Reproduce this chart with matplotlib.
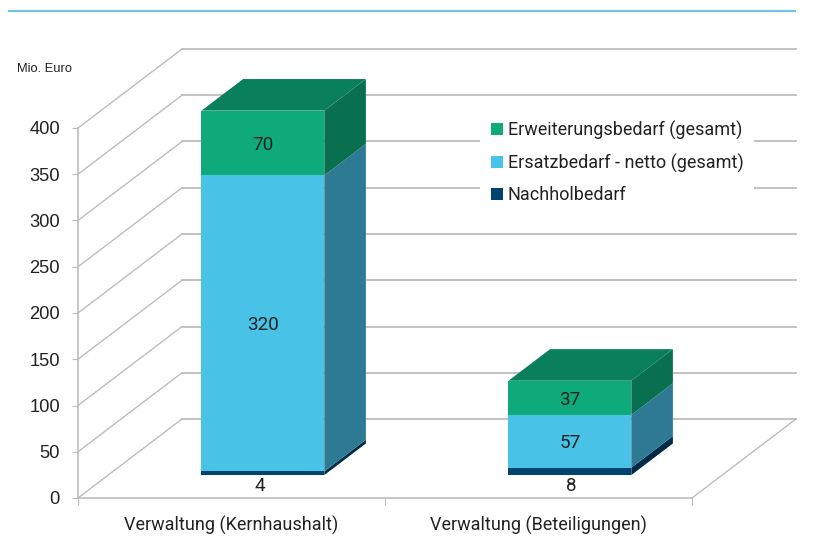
"""Stacked pseudo-3D bars: Investitionsbedarf Verwaltung."""

from __future__ import annotations

import matplotlib

matplotlib.use("Agg")
import matplotlib.pyplot as plt
from matplotlib.lines import Line2D
from matplotlib.patches import Patch, Polygon

categories = ["Verwaltung (Kernhaushalt)", "Verwaltung (Beteiligungen)"]
series_names = ["Nachholbedarf", "Ersatzbedarf - netto (gesamt)", "Erweiterungsbedarf (gesamt)"]
nachhol = [4, 8]
ersatz = [320, 57]
erweiterung = [70, 37]
y_ticks = [0, 50, 100, 150, 200, 250, 300, 350, 400]

FRONT = ["#00436f", "#48c2e6", "#0eaa7a"]
SIDE = ["#002b48", "#2e7a94", "#086f4f"]
TOP = ["#002b48", "#2e7a94", "#0a7f5c"]
GRID = "#bdbdbd"
TEXT = "#222222"
FONT = "Roboto"

W, H = 816, 536
LEFT, RIGHT, BOTTOM, TOP_PX = 78, 692, 498, 128
DEPTH_X = 104 / ((RIGHT - LEFT) / 2)  # category units per full floor depth
DEPTH_Y = 79 / ((BOTTOM - TOP_PX) / 400)  # value units per full floor depth
BAR_WIDTH = 0.4
BAR_FRONT = 0.29
BAR_BACK = 0.69
BAR_SHIFT = 0.004
BOTTOM_LABEL_NUDGE = [-0.009, 0.005]


def _project(x: float, value: float, depth: float) -> tuple[float, float]:
    return x + depth * DEPTH_X, value + depth * DEPTH_Y


def _draw_walls(ax: plt.Axes) -> None:
    for tick in y_ticks:
        back_l = _project(0, tick, 1)
        back_r = _project(2, tick, 1)
        ax.plot([0, back_l[0]], [tick, back_l[1]], color=GRID, lw=1.0, clip_on=False, zorder=1)
        ax.plot([back_l[0], back_r[0]], [back_l[1], back_r[1]], color=GRID, lw=1.3, clip_on=False, zorder=1)
    floor_r = _project(2, 0, 1)
    ax.plot([2, floor_r[0]], [0, floor_r[1]], color=GRID, lw=1.0, clip_on=False, zorder=1)


def _draw_segment(ax: plt.Axes, center: float, low: float, high: float, level: int, with_top: bool) -> None:
    x0, x1 = center - BAR_WIDTH / 2, center + BAR_WIDTH / 2
    front = [_project(x0, low, BAR_FRONT), _project(x1, low, BAR_FRONT),
             _project(x1, high, BAR_FRONT), _project(x0, high, BAR_FRONT)]
    side = [_project(x1, low, BAR_FRONT), _project(x1, low, BAR_BACK),
            _project(x1, high, BAR_BACK), _project(x1, high, BAR_FRONT)]
    ax.add_patch(Polygon(side, facecolor=SIDE[level], edgecolor="none", clip_on=False, zorder=3))
    ax.add_patch(Polygon(front, facecolor=FRONT[level], edgecolor="none", clip_on=False, zorder=4))
    if with_top:
        top = [_project(x0, high, BAR_FRONT), _project(x1, high, BAR_FRONT),
               _project(x1, high, BAR_BACK), _project(x0, high, BAR_BACK)]
        ax.add_patch(Polygon(top, facecolor=TOP[level], edgecolor="none", clip_on=False, zorder=3))


def _draw_bars(ax: plt.Axes) -> None:
    for index in range(len(categories)):
        center = index + 0.5 + BAR_SHIFT
        low = 0
        stack = [nachhol[index], ersatz[index], erweiterung[index]]
        for level, value in enumerate(stack):
            high = low + value
            _draw_segment(ax, center, low, high, level, level == 2)
            label_x, label_y = _project(center, (low + high) / 2, BAR_FRONT)
            if level == 0:
                label_y = _project(center, low, BAR_FRONT)[1] - 10
                label_x += BOTTOM_LABEL_NUDGE[index]
            ax.text(label_x, label_y - 2, str(value), ha="center", va="center", fontsize=13.6,
                    family=FONT, color=TEXT, zorder=5)
            low = high


fig = plt.figure(figsize=(W / 100, H / 100), dpi=100)
ax = fig.add_axes([LEFT / W, 1 - BOTTOM / H, (RIGHT - LEFT) / W, (BOTTOM - TOP_PX) / H])
ax.set_xlim(0, 2)
ax.set_ylim(0, 400)
for name in ("top", "right"):
    ax.spines[name].set_visible(False)
for name in ("left", "bottom"):
    ax.spines[name].set_color(GRID)
    ax.spines[name].set_linewidth(1.2)
ax.set_yticks(y_ticks)
ax.tick_params(axis="y", length=4.5, color=GRID, pad=8.5, labelsize=13.2, labelcolor=TEXT)
ax.set_xticks([0, 1, 2])
ax.set_xticklabels([])
ax.tick_params(axis="x", which="major", length=5, color=GRID)
ax.set_xticks([0.5, 1.5], minor=True)
ax.set_xticklabels(categories, minor=True, fontsize=13, family=FONT, color=TEXT)
ax.tick_params(axis="x", which="minor", length=0, pad=13)
for label in ax.get_yticklabels():
    label.set_family("Liberation Sans")

_draw_walls(ax)
_draw_bars(ax)

handles = [Patch(facecolor=FRONT[level], label=series_names[level]) for level in (2, 1, 0)]
legend = ax.legend(
    handles=handles,
    loc="upper left",
    bbox_to_anchor=(480 / W, 1 - 110 / H),
    bbox_transform=fig.transFigure,
    frameon=True,
    facecolor="white",
    edgecolor="none",
    framealpha=1,
    fancybox=False,
    prop={"family": FONT, "size": 13},
    labelcolor=TEXT,
    handlelength=0.66,
    handleheight=0.66,
    handletextpad=0.28,
    labelspacing=0.75,
    borderpad=0.6,
    borderaxespad=0,
)
legend.set_zorder(2)

fig.text(17 / W, 1 - 69 / H, "Mio. Euro", fontsize=9.3, family="Liberation Sans", color=TEXT, va="center")
fig.add_artist(Line2D([9 / W, 795 / W], [1 - 11 / H, 1 - 11 / H], color="#6cc5e6", lw=1.5))

fig.savefig("out.png", dpi=100)
plt.close(fig)
